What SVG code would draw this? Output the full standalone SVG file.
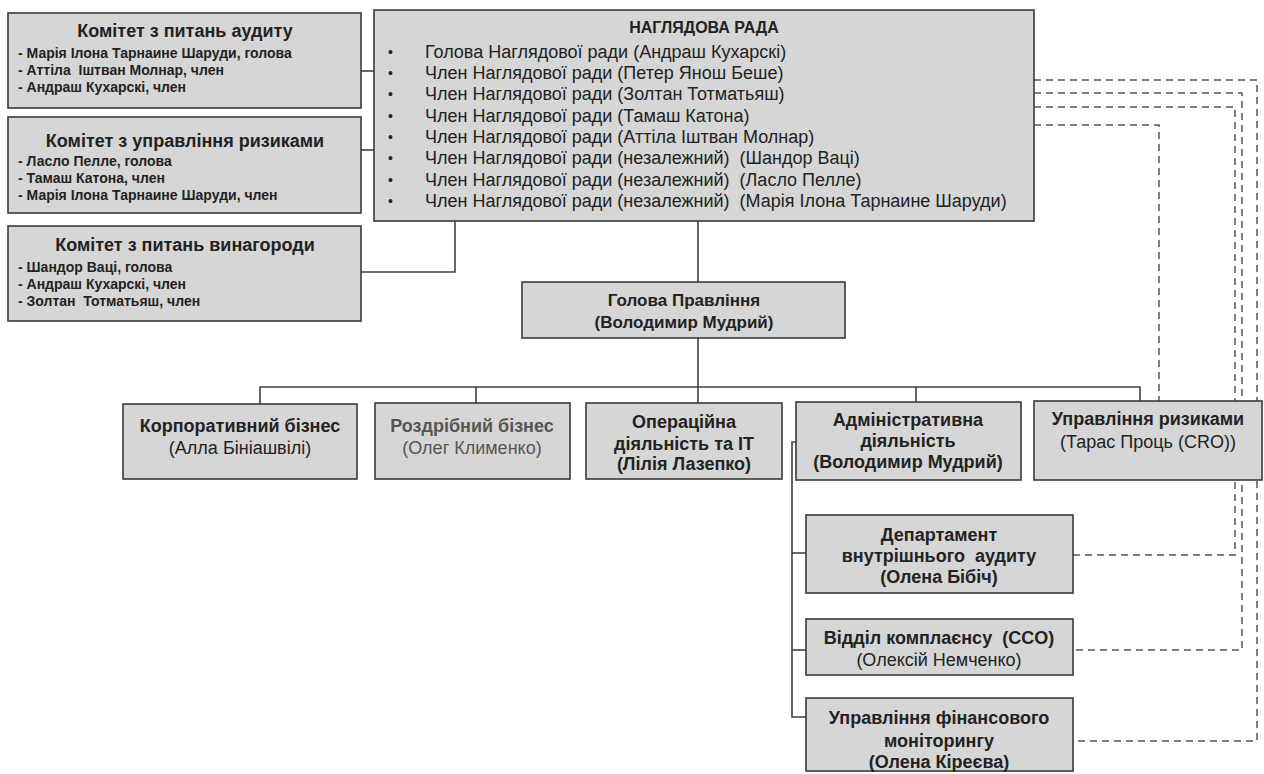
<svg xmlns="http://www.w3.org/2000/svg" width="1264" height="774" viewBox="0 0 1264 774">
<style>
.bg{fill:#ffffff}
.box{fill:#d6d6d6;stroke:#3a3a3a;stroke-width:1.6}
.ln{fill:none;stroke:#404040;stroke-width:1.6}
.dash{fill:none;stroke:#555555;stroke-width:1.5;stroke-dasharray:7 5}
text{font-family:"Liberation Sans",Arial,sans-serif;fill:#222222;white-space:pre}
.ct{font-size:18px;font-weight:bold;text-anchor:middle}
.ci{font-size:14px;font-weight:bold}
.row{font-size:18px}
.bul{font-size:14px}
.tt{font-size:16px;font-weight:bold;text-anchor:middle}
.hb{font-size:17px;font-weight:bold;text-anchor:middle}
.nb{font-size:18px;font-weight:bold;text-anchor:middle}
.nr{font-size:18px;text-anchor:middle}
.gray{fill:#555555}
</style>
<rect class="bg" x="0" y="0" width="1264" height="774"/>

<g id="connectors">
  <path class="ln" d="M361 71 H374"/>
  <path class="ln" d="M361 150 H374"/>
  <path class="ln" d="M361 272 H455 V221"/>
  <path class="ln" d="M698 221 V282"/>
  <path class="ln" d="M698 338 V387"/>
  <path class="ln" d="M260 404 V387 H1140 V401"/>
  <path class="ln" d="M476 387 V403"/>
  <path class="ln" d="M698 387 V403"/>
  <path class="ln" d="M916 387 V402"/>
  <path class="ln" d="M796 442 H792 V717 H806"/>
  <path class="ln" d="M792 553 H806"/>
  <path class="ln" d="M792 650 H806"/>
  <path class="dash" d="M1034 80 H1257 V741 H1073"/>
  <path class="dash" d="M1034 93 H1242 V650 H1073"/>
  <path class="dash" d="M1034 107 H1235 V555 H1073"/>
  <path class="dash" d="M1034 125 H1159 V401"/>
</g>

<g id="audit-committee">
  <rect class="box" x="8" y="13" width="353" height="95"/>
  <text class="ct" x="185" y="37">Комітет з питань аудиту</text>
  <text class="ci" x="18" y="58">- Марія Ілона Тарнаине Шаруди, голова</text>
  <text class="ci" x="18" y="75">- Аттіла  Іштван Молнар, член</text>
  <text class="ci" x="18" y="92">- Андраш Кухарскі, член</text>
</g>

<g id="risk-committee">
  <rect class="box" x="8" y="117" width="353" height="96"/>
  <text class="ct" x="185" y="147">Комітет з управління ризиками</text>
  <text class="ci" x="18" y="166">- Ласло Пелле, голова</text>
  <text class="ci" x="18" y="183">- Тамаш Катона, член</text>
  <text class="ci" x="18" y="200">- Марія Ілона Тарнаине Шаруди, член</text>
</g>

<g id="remuneration-committee">
  <rect class="box" x="8" y="226" width="353" height="95"/>
  <text class="ct" x="185" y="251">Комітет з питань винагороди</text>
  <text class="ci" x="18" y="272">- Шандор Ваці, голова</text>
  <text class="ci" x="18" y="289">- Андраш Кухарскі, член</text>
  <text class="ci" x="18" y="306">- Золтан  Тотматьяш, член</text>
</g>

<g id="supervisory-board">
  <rect class="box" x="374" y="10" width="660" height="211"/>
  <text class="tt" x="704" y="33">НАГЛЯДОВА РАДА</text>
  <text class="bul" x="388" y="57">•</text>
  <text class="row" x="425" y="58">Голова Наглядової ради (Андраш Кухарскі)</text>
  <text class="bul" x="388" y="78">•</text>
  <text class="row" x="425" y="79">Член Наглядової ради (Петер Янош Беше)</text>
  <text class="bul" x="388" y="99">•</text>
  <text class="row" x="425" y="100">Член Наглядової ради (Золтан Тотматьяш)</text>
  <text class="bul" x="388" y="121">•</text>
  <text class="row" x="425" y="122">Член Наглядової ради (Тамаш Катона)</text>
  <text class="bul" x="388" y="142">•</text>
  <text class="row" x="425" y="143">Член Наглядової ради (Аттіла Іштван Молнар)</text>
  <text class="bul" x="388" y="163">•</text>
  <text class="row" x="425" y="164">Член Наглядової ради (незалежний)  (Шандор Ваці)</text>
  <text class="bul" x="388" y="185">•</text>
  <text class="row" x="425" y="186">Член Наглядової ради (незалежний)  (Ласло Пелле)</text>
  <text class="bul" x="388" y="206">•</text>
  <text class="row" x="425" y="207">Член Наглядової ради (незалежний)  (Марія Ілона Тарнаине Шаруди)</text>
</g>

<g id="ceo">
  <rect class="box" x="522" y="282" width="323" height="56"/>
  <text class="hb" x="684" y="306">Голова Правління</text>
  <text class="hb" x="684" y="328">(Володимир Мудрий)</text>
</g>

<g id="corporate">
  <rect class="box" x="123" y="404" width="234" height="75"/>
  <text class="nb" x="240" y="432">Корпоративний бізнес</text>
  <text class="nr" x="240" y="454">(Алла Бініашвілі)</text>
</g>

<g id="retail">
  <rect class="box" x="375" y="403" width="195" height="76"/>
  <text class="nb gray" x="472" y="432">Роздрібний бізнес</text>
  <text class="nr gray" x="472" y="454">(Олег Клименко)</text>
</g>

<g id="operations">
  <rect class="box" x="586" y="403" width="196" height="76"/>
  <text class="nb" x="684" y="428">Операційна</text>
  <text class="nb" x="684" y="450">діяльність та ІТ</text>
  <text class="nb" x="684" y="470">(Лілія Лазепко)</text>
</g>

<g id="administrative">
  <rect class="box" x="796" y="402" width="225" height="78"/>
  <text class="nb" x="908" y="426">Адміністративна</text>
  <text class="nb" x="908" y="447">діяльність</text>
  <text class="nb" x="908" y="468">(Володимир Мудрий)</text>
</g>

<g id="risk-management">
  <rect class="box" x="1034" y="401" width="228" height="79"/>
  <text class="nb" x="1148" y="425">Управління ризиками</text>
  <text class="nr" x="1148" y="448">(Тарас Проць (CRO))</text>
</g>

<g id="internal-audit">
  <rect class="box" x="806" y="515" width="267" height="78"/>
  <text class="nb" x="939" y="541">Департамент</text>
  <text class="nb" x="939" y="562">внутрішнього  аудиту</text>
  <text class="nb" x="939" y="583">(Олена Бібіч)</text>
</g>

<g id="compliance">
  <rect class="box" x="806" y="619" width="267" height="56"/>
  <text class="nb" x="939" y="644">Відділ комплаєнсу  (CCO)</text>
  <text class="nr" x="939" y="666">(Олексій Немченко)</text>
</g>

<g id="financial-monitoring">
  <rect class="box" x="806" y="698" width="267" height="73"/>
  <text class="nb" x="939" y="724">Управління фінансового</text>
  <text class="nb" x="939" y="747">моніторингу</text>
  <text class="nb" x="939" y="768">(Олена Кіреєва)</text>
</g>
</svg>
